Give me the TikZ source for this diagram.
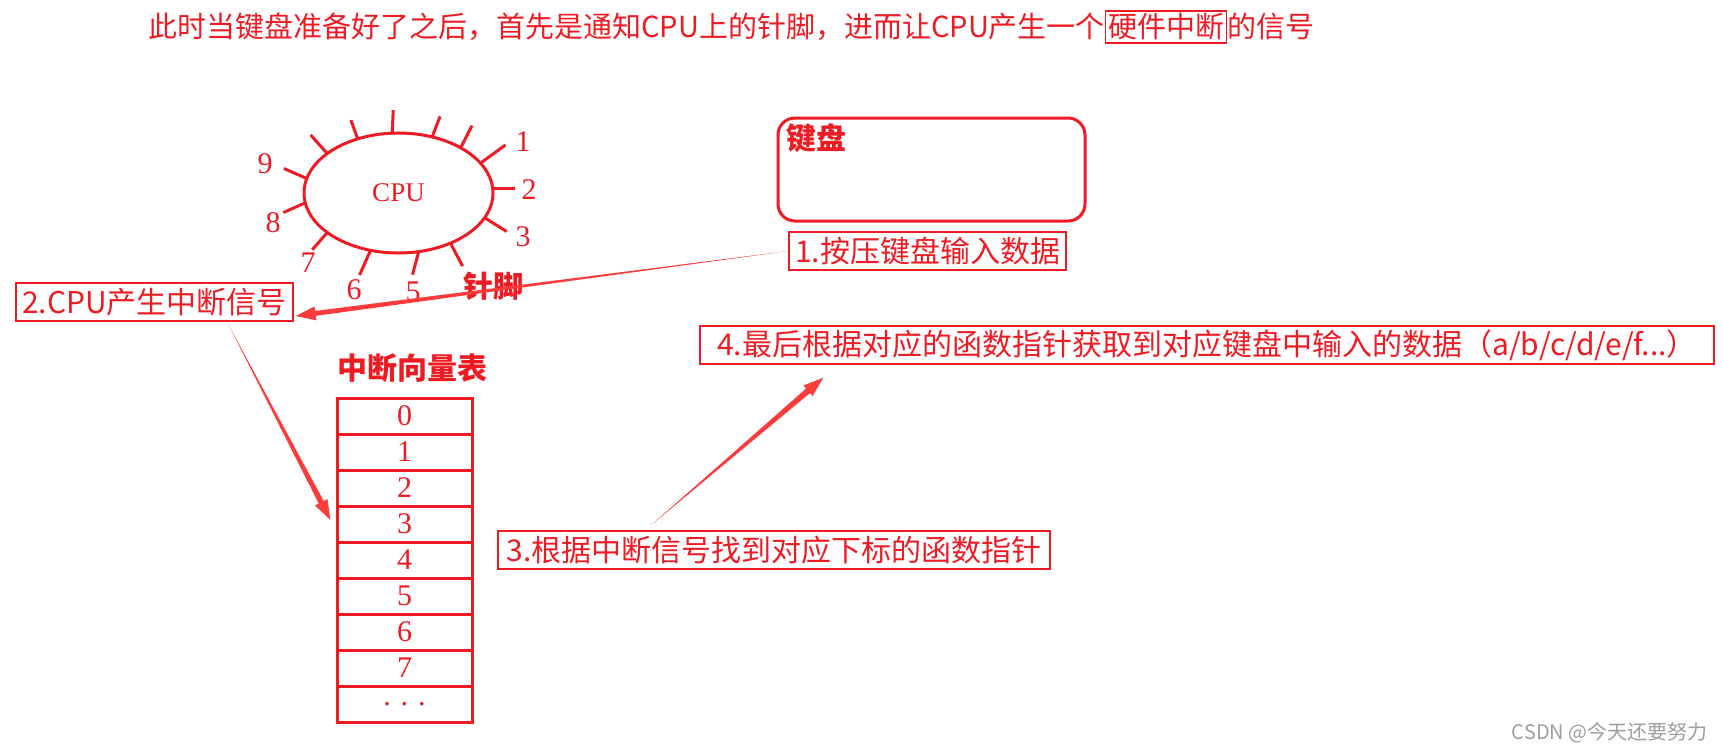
\documentclass[tikz,border=0pt]{standalone}
\usepackage{fontspec}
\setmainfont{Liberation Serif}
\newfontfamily\cjk{Noto Sans CJK SC}
\usepackage{xcolor}
\usetikzlibrary{shapes,calc,positioning}
\definecolor{cred}{HTML}{ED1C24}
\definecolor{ared}{HTML}{FB3C3C}
\tikzstyle{lbl} = [rectangle, draw=cred, line width=0.75pt, text=cred, font=\cjk\fontsize{15}{18}\selectfont, minimum height=19pt, inner xsep=3pt, inner ysep=0pt]
\tikzstyle{vrow} = [rectangle, draw=cred, line width=1.5pt, text=cred, minimum width=67.5pt, minimum height=18pt, font=\fontsize{15}{18}\selectfont, inner sep=0pt]
\tikzstyle{pinno} = [text=cred, font=\fontsize{15}{18}\selectfont, inner sep=0pt]
\tikzstyle{head} = [text=cred, font=\cjk\bfseries\fontsize{15}{18}\selectfont, inner sep=0pt]
\newcommand{\thinthick}[3][1.25pt]{%
  \coordinate (tA) at (#2);
  \coordinate (tB) at (#3);
  \coordinate (tH) at ($(tB)!10pt!(tA)$);
  \fill[ared] (tA) -- ($(tH)!#1!90:(tB)$) -- ($(tH)!3.5pt!90:(tB)$) -- (tB) -- ($(tH)!3.5pt!-90:(tB)$) -- ($(tH)!#1!-90:(tB)$) -- cycle;
}

\begin{document}
\begin{tikzpicture}[x=0.5pt, y=0.5pt]
  \useasboundingbox (0,0) rectangle (1723,-751);
  \node[anchor=west, inner sep=0pt, text=cred, font=\cjk\fontsize{14.5}{17}\selectfont] (title) at (148,-27) {此时当键盘准备好了之后，首先是通知CPU上的针脚，进而让CPU产生一个{\setlength\fboxsep{1pt}\setlength\fboxrule{0.6pt}\fbox{硬件中断}}的信号};

  \node[ellipse, draw=cred, line width=1.5pt, minimum width=94.5pt, minimum height=60pt, inner sep=0pt, outer sep=0pt, text=cred, font=\fontsize{13.5}{15}\selectfont] (cpu) at (398.5,-193) {CPU};
  \foreach \a/\d/\l in {127.7/110/20, 96/87.5/23, 59/69/22, 36/63/25, 20/36/31, 3/0/22, -16/-32/26, -44/-62/26, -71/-105/24, -116.6/-114/27, -151/-131/23, -174/-156/24, 171/156.5/25, 151/132/25}
    \draw[cred, line width=1.5pt] (cpu.\a) -- ++(\d:\l);
  \node[pinno] (p1) at (523,-142) {1};
  \node[pinno] (p2) at (529,-190) {2};
  \node[pinno] (p3) at (523,-237) {3};
  \node[pinno] (p5) at (413,-292) {5};
  \node[pinno] (p6) at (354,-290) {6};
  \node[pinno] (p7) at (308,-263) {7};
  \node[pinno] (p8) at (273,-223) {8};
  \node[pinno] (p9) at (265,-164) {9};
  \node[head] (pins) at (493,-286) {针脚};

  \node[rectangle, rounded corners=8.5pt, draw=cred, line width=1.5pt, minimum width=153.5pt, minimum height=51.5pt] (kbd) at (931.5,-169.5) {};
  \node[head, anchor=west] (kbdt) at (786,-138) {键盘};

  \node[lbl, minimum width=138.5pt] (b1) at (927.5,-251) {1.按压键盘输入数据};
  \node[lbl, minimum width=136.5pt] (b2) at (154.5,-302) {2.CPU产生中断信号};
  \node[lbl, minimum width=276pt] (b3) at (774,-550) {3.根据中断信号找到对应下标的函数指针};
  \node[lbl, minimum width=507pt] (b4) at (1207,-345) {4.最后根据对应的函数指针获取到对应键盘中输入的数据（a/b/c/d/e/f...）};

  \node[head] (vt) at (412.5,-368) {中断向量表};
  \foreach \v [count=\i from 0] in {0,1,2,3,4,5,6,7,{.\hspace{5pt}.\hspace{5pt}.}}
    \node[vrow] (r\i) at (404.5,{-416-36*\i}) {\raisebox{-1.5pt}{\v}};

  \thinthick{b1.west}{$(b2.east)+(2,-14)$}
  \thinthick[1.4pt]{$(b2.south)+(74,-3)$}{$(r3.west)+(-5,4)$}
  \thinthick[1.5pt]{$(b3.north)+(-123,5)$}{$(b4.south west)+(124,-13)$}

  \node[anchor=east, inner sep=0pt, text=black!38, font=\cjk\fontsize{10}{12}\selectfont] (wm) at (1708,-733) {CSDN @今天还要努力};
\end{tikzpicture}
\end{document}
